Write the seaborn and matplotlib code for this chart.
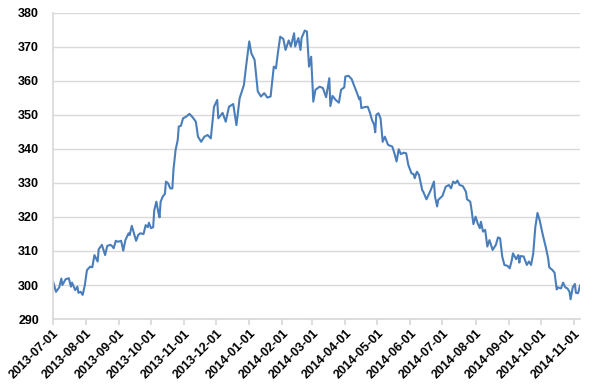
import matplotlib
matplotlib.use("Agg")
import matplotlib.dates as mdates
import pandas as pd
import seaborn as sns
from matplotlib import pyplot as plt

# days since 2013-07-01 and the value
start_date = "2013-07-01"
day_offsets = [
    0, 3, 6, 8, 9, 12, 15, 17, 18, 21, 23, 24, 26, 28, 30, 32, 35, 37, 39, 42,
    43, 46, 49, 51, 54, 56, 57, 59, 61, 64, 66, 68, 71, 72, 74, 76, 78, 80, 82, 85,
    87, 89, 90, 92, 94, 95, 97, 99, 100, 101, 103, 105, 106, 108, 110, 112, 113, 115, 117, 118,
    120, 122, 125, 128, 131, 134, 136, 139, 142, 145, 148, 151, 154, 155, 159, 162, 165, 169, 172, 175,
    179, 181, 184, 186, 189, 192, 195, 198, 201, 204, 207, 209, 211, 213, 216, 218, 221, 223, 226, 227,
    230, 232, 233, 236, 238, 240, 242, 244, 246, 250, 253, 256, 259, 260, 262, 265, 268, 270, 273, 274,
    277, 280, 282, 285, 287, 288, 289, 292, 295, 297, 299, 301, 302, 303, 305, 307, 309, 311, 314, 318,
    320, 322, 324, 326, 329, 331, 333, 336, 338, 339, 341, 343, 346, 347, 350, 354, 357, 358, 360, 361,
    365, 368, 371, 373, 375, 377, 379, 381, 384, 387, 388, 391, 392, 394, 396, 398, 400, 401, 403, 405,
    407, 409, 412, 415, 417, 419, 421, 423, 426, 428, 430, 431, 434, 436, 437, 438, 441, 444, 446, 448,
    450, 452, 454, 456, 459, 462, 464, 465, 468, 470, 472, 473, 476, 478, 480, 482, 484, 485, 487, 489,
    490, 492, 494,
]
values = [
    301.3, 298.0, 299.3, 301.9, 300.0, 301.7, 302.0, 299.5, 300.7, 298.5, 299.5, 297.7, 298.0, 297.1, 300.0, 304.4, 305.4, 305.2, 308.8, 306.9,
    310.5, 311.8, 308.8, 311.5, 311.8, 311.3, 310.8, 313.0, 312.7, 313.0, 310.1, 313.2, 315.2, 314.7, 317.4, 315.2, 313.0, 314.7, 315.2, 315.0,
    317.6, 317.0, 318.3, 316.7, 317.0, 321.9, 324.5, 321.1, 319.9, 324.5, 326.0, 326.8, 330.4, 329.9, 328.4, 328.4, 333.8, 339.7, 342.6, 346.6,
    346.8, 349.0, 349.5, 350.3, 349.3, 348.0, 343.6, 342.1, 343.6, 344.1, 343.1, 352.4, 354.4, 349.0, 350.6, 348.0, 352.4, 353.2, 347.0, 354.9,
    358.8, 364.2, 371.6, 368.1, 366.2, 356.9, 355.4, 356.4, 355.1, 355.4, 364.2, 363.7, 368.6, 373.0, 372.3, 369.1, 371.9, 370.1, 374.0, 370.1,
    372.6, 369.1, 372.6, 374.8, 374.5, 364.2, 367.1, 353.9, 357.4, 358.3, 357.9, 355.2, 360.8, 352.6, 355.6, 354.4, 353.6, 357.4, 358.1, 361.3,
    361.5, 360.5, 358.8, 356.4, 354.6, 355.2, 352.0, 352.3, 352.4, 350.7, 348.5, 347.1, 344.9, 350.0, 350.5, 349.0, 342.1, 343.6, 341.2, 340.7,
    338.7, 336.3, 339.9, 338.5, 338.9, 338.7, 335.3, 332.8, 332.6, 331.4, 333.3, 332.4, 327.9, 327.4, 325.2, 327.9, 330.4, 326.0, 323.1, 325.0,
    326.2, 328.9, 329.4, 328.4, 330.4, 329.9, 330.7, 329.4, 329.1, 327.4, 325.2, 324.5, 322.6, 317.9, 320.1, 318.1, 316.7, 318.6, 315.7, 316.2,
    311.3, 313.2, 310.3, 311.8, 314.0, 313.7, 308.3, 305.9, 305.6, 304.9, 307.4, 309.3, 307.6, 308.8, 306.6, 308.5, 308.4, 305.9, 306.9, 305.9,
    309.3, 317.1, 321.2, 319.1, 314.7, 310.8, 307.8, 305.2, 304.4, 303.6, 298.7, 299.3, 299.0, 300.7, 299.3, 299.0, 298.0, 295.8, 299.3, 300.3,
    297.7, 297.6, 300.0,
]
y_ticks = [290, 300, 310, 320, 330, 340, 350, 360, 370, 380]


def main():
    frame = pd.DataFrame({
        "date": pd.Timestamp(start_date) + pd.to_timedelta(day_offsets, unit="D"),
        "value": values,
    })

    sns.set_theme(style="white")
    plt.rcParams["font.family"] = ["Liberation Sans", "DejaVu Sans"]

    fig = plt.figure(figsize=(6, 3.9), dpi=100)
    ax = fig.add_axes([0.088, 0.182, 0.879, 0.785])
    sns.lineplot(data=frame, x="date", y="value", color="#4a7ebb", linewidth=1.5, ax=ax)

    ax.set_ylim(y_ticks[0], y_ticks[-1])
    ax.set_yticks(y_ticks)
    ax.set_xlim(frame["date"].iloc[0], frame["date"].iloc[-1])
    ax.xaxis.set_major_locator(mdates.MonthLocator())
    ax.xaxis.set_major_formatter(mdates.DateFormatter("%Y-%m-%d"))

    ax.yaxis.grid(True, color="#d9d9d9", linewidth=1)
    ax.xaxis.grid(False)
    ax.set_axisbelow(True)
    for side in ["top", "right"]:
        ax.spines[side].set_visible(False)
    ax.spines["left"].set_color("#d9d9d9")
    ax.spines["bottom"].set_color("#d9d9d9")

    ax.tick_params(axis="x", bottom=True, length=4, color="#d9d9d9", pad=2)
    ax.tick_params(axis="y", left=False, pad=4)
    plt.setp(ax.get_xticklabels(), rotation=45, ha="right", rotation_mode="anchor",
             fontsize=9, fontweight="bold", color="black")
    plt.setp(ax.get_yticklabels(), fontsize=9, fontweight="bold", color="black")

    ax.set_xlabel("")
    ax.set_ylabel("")
    fig.savefig("out.png", dpi=100)
    plt.close(fig)


if __name__ == "__main__":
    main()
